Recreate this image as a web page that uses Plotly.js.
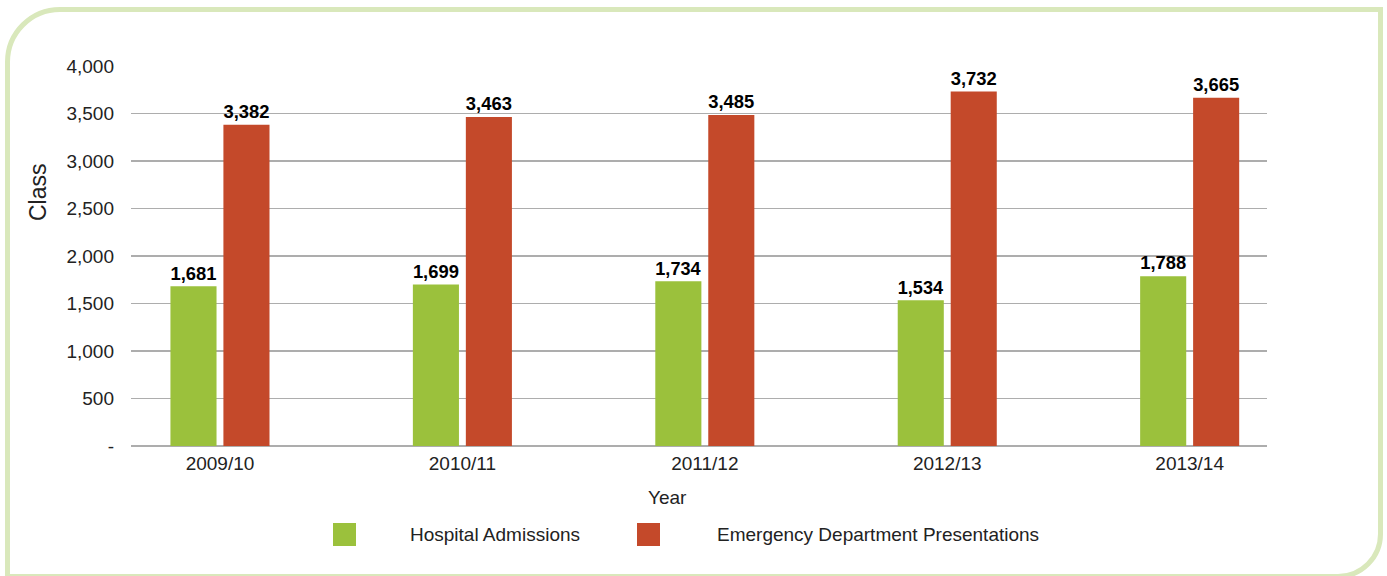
<!DOCTYPE html>
<html>
<head>
<meta charset="utf-8">
<script src="https://cdn.plot.ly/plotly-3.0.1.min.js"></script>
<style>
  html, body { margin: 0; padding: 0; background: #ffffff; }
  body { width: 1387px; height: 576px; position: relative; overflow: hidden; }
  #frame {
    position: absolute; left: 5px; top: 7px; width: 1378px; height: 572px;
    box-sizing: border-box; border: 5px solid #d9e8bb;
    border-radius: 55px 0 45px 0; background: #ffffff;
  }
  #chart { position: absolute; left: 0; top: 0; width: 1387px; height: 576px; }
</style>
</head>
<body>
<div id="frame"></div>
<div id="chart"></div>
<script>
// ---- data ----
const years = ['2009/10', '2010/11', '2011/12', '2012/13', '2013/14'];
const hospitalAdmissions = [1681, 1699, 1734, 1534, 1788];
const edPresentations = [3382, 3463, 3485, 3732, 3665];
const seriesNames = ['Hospital Admissions', 'Emergency Department Presentations'];
const yTickVals = [0, 500, 1000, 1500, 2000, 2500, 3000, 3500, 4000];
const yTickText = ['-', '500', '1,000', '1,500', '2,000', '2,500', '3,000', '3,500', '4,000'];

// ---- styles ----
const colors = ['#9bc13c', '#c4492a'];
const baseFont = 'Liberation Sans, Arial, Helvetica, sans-serif';

const labelFont = { family: baseFont, size: 20, color: '#000000', weight: 'bold' };

const traces = [hospitalAdmissions, edPresentations].map((vals, i) => ({
  type: 'bar',
  name: seriesNames[i],
  x: years,
  y: vals,
  marker: { color: colors[i], line: { width: 0 } },
  text: vals,
  texttemplate: '<b>%{y:,}</b>',
  textposition: 'outside',
  textfont: labelFont,
  cliponaxis: false,
  showlegend: false,
  hoverinfo: 'x+y+name'
}));

// plot area in pixels: x 131..1267, y 66..446
const L = 131, R = 1267, T = 66, B = 446;
const px = v => (v - L) / (R - L);
const py = v => (B - v) / (B - T);

// custom legend (swatches + labels)
const legendSwatchX = [333, 637];
const legendTextX = [408, 715];
const shapes = [];
const annotations = [];
seriesNames.forEach((nm, i) => {
  shapes.push({
    type: 'rect', xref: 'paper', yref: 'paper',
    x0: px(legendSwatchX[i]), x1: px(legendSwatchX[i] + 23),
    y0: py(546), y1: py(523),
    fillcolor: colors[i], line: { width: 0 }
  });
  annotations.push({
    xref: 'paper', yref: 'paper', x: px(legendTextX[i]), y: py(534.5),
    xanchor: 'left', yanchor: 'middle', showarrow: false,
    text: nm, font: { family: baseFont, size: 19, color: '#222222' }
  });
});
// y axis title "Class"
annotations.push({
  xref: 'paper', yref: 'paper', x: px(38), y: py(192),
  xanchor: 'center', yanchor: 'middle', showarrow: false, textangle: -90,
  text: 'Class', font: { family: baseFont, size: 23, color: '#222222' }
});
// x axis title "Year"
annotations.push({
  xref: 'paper', yref: 'paper', x: px(667), y: py(497),
  xanchor: 'center', yanchor: 'middle', showarrow: false,
  text: 'Year', font: { family: baseFont, size: 19, color: '#222222' }
});

const layout = {
  width: 1387, height: 576,
  margin: { l: L, r: 1387 - R, t: T, b: 576 - B, pad: 0 },
  paper_bgcolor: 'rgba(0,0,0,0)',
  plot_bgcolor: 'rgba(0,0,0,0)',
  barmode: 'group',
  bargap: 0.563,
  bargroupgap: 0.13,
  showlegend: false,
  font: { family: baseFont, size: 19, color: '#222222' },
  xaxis: {
    type: 'category',
    range: [-0.367, 4.319],
    showgrid: false, showline: false, zeroline: false,
    ticks: '', ticklabelstandoff: 4,
    tickfont: { family: baseFont, size: 19, color: '#222222' }
  },
  yaxis: {
    range: [0, 4000],
    tickvals: yTickVals, ticktext: yTickText,
    showgrid: true, gridcolor: '#adadad', gridwidth: 1.5,
    zeroline: true, zerolinecolor: '#adadad', zerolinewidth: 1.5,
    showline: false, ticks: '', ticklabelstandoff: 16,
    tickfont: { family: baseFont, size: 19, color: '#222222' }
  },
  shapes: shapes,
  annotations: annotations
};

Plotly.newPlot('chart', traces, layout, { displayModeBar: false, staticPlot: true });
</script>
</body>
</html>
